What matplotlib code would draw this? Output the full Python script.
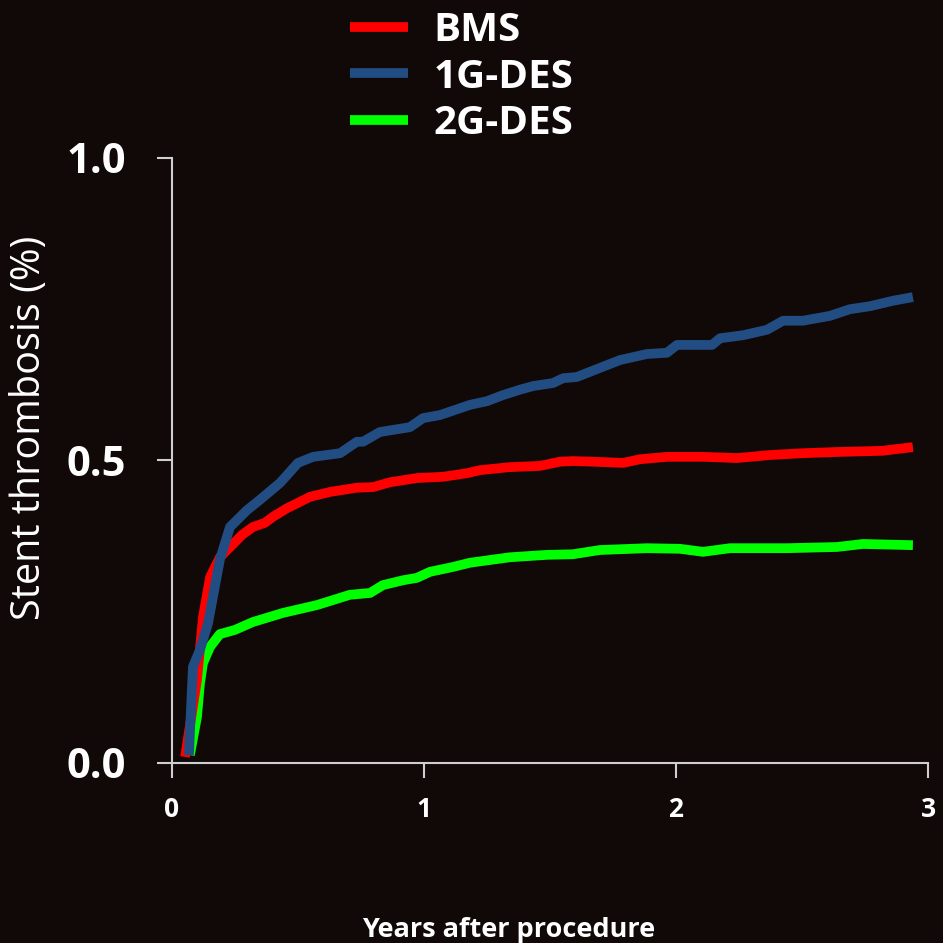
import matplotlib
matplotlib.use("Agg")
import matplotlib.pyplot as plt

# Cumulative stent thrombosis (%)
bms_years = [0.052, 0.099, 0.123, 0.151, 0.19, 0.238, 0.278, 0.321, 0.369, 0.401, 0.456, 0.5,
             0.548, 0.627, 0.734, 0.798, 0.865, 0.972, 1.075, 1.171, 1.222, 1.341, 1.46, 1.54,
             1.591, 1.671, 1.79, 1.857, 1.964, 2.107, 2.242, 2.373, 2.504, 2.639, 2.821, 2.877, 2.94]
bms_st = [0.010, 0.137, 0.241, 0.307, 0.340, 0.360, 0.377, 0.390, 0.397, 0.407, 0.421, 0.430,
          0.440, 0.448, 0.455, 0.456, 0.464, 0.471, 0.473, 0.479, 0.484, 0.489, 0.491, 0.498,
          0.499, 0.498, 0.496, 0.502, 0.506, 0.506, 0.504, 0.509, 0.512, 0.514, 0.516, 0.519, 0.522]

des1_years = [0.067, 0.083, 0.111, 0.143, 0.19, 0.23, 0.298, 0.349, 0.429, 0.5, 0.56, 0.667,
              0.734, 0.758, 0.825, 0.944, 0.996, 1.063, 1.183, 1.25, 1.313, 1.381, 1.433, 1.512,
              1.552, 1.607, 1.698, 1.778, 1.885, 1.964, 2.004, 2.143, 2.175, 2.266, 2.361, 2.425,
              2.504, 2.611, 2.69, 2.77, 2.861, 2.94]
des1_st = [0.013, 0.159, 0.187, 0.231, 0.336, 0.390, 0.418, 0.435, 0.463, 0.496, 0.506, 0.512,
           0.531, 0.531, 0.547, 0.555, 0.570, 0.575, 0.592, 0.598, 0.608, 0.617, 0.623, 0.628,
           0.636, 0.638, 0.653, 0.666, 0.676, 0.678, 0.691, 0.691, 0.702, 0.707, 0.716, 0.731,
           0.731, 0.739, 0.750, 0.755, 0.764, 0.770]

des2_years = [0.071, 0.099, 0.111, 0.123, 0.151, 0.19, 0.25, 0.321, 0.44, 0.575, 0.706, 0.786,
              0.837, 0.917, 0.972, 1.024, 1.115, 1.183, 1.341, 1.488, 1.591, 1.698, 1.885, 2.016,
              2.107, 2.214, 2.44, 2.639, 2.742, 2.94]
des2_st = [0.013, 0.076, 0.132, 0.165, 0.192, 0.213, 0.220, 0.233, 0.248, 0.261, 0.278, 0.281,
           0.294, 0.302, 0.306, 0.316, 0.324, 0.331, 0.340, 0.344, 0.345, 0.352, 0.355, 0.354,
           0.349, 0.355, 0.355, 0.357, 0.362, 0.360]

series_labels = ["BMS", "1G-DES", "2G-DES"]
x_ticks = [0, 1, 2, 3]
y_ticks = [0.0, 0.5, 1.0]

bg = "#110808"
axis_col = "#cfcfcf"

fig = plt.figure(figsize=(9.43, 9.43), dpi=100, facecolor=bg)
ax = fig.add_axes([0.1824, 0.1909, 0.8017, 0.6416], facecolor=bg)

lw = 7
l1, = ax.plot(bms_years, bms_st, color="#ff0000", lw=lw, solid_capstyle="butt", label=series_labels[0])
l2, = ax.plot(des1_years, des1_st, color="#224d82", lw=lw, solid_capstyle="butt", label=series_labels[1])
l3, = ax.plot(des2_years, des2_st, color="#00ff00", lw=lw, solid_capstyle="butt", label=series_labels[2])
# 2G sits under the other two near the origin
l3.set_zorder(1.5)
l1.set_zorder(2.5)
l2.set_zorder(3)

ax.set_xlim(0, 3)
ax.set_ylim(0, 1)
ax.set_xticks(x_ticks)
ax.set_xticklabels([str(t) for t in x_ticks])
ax.set_yticks(y_ticks)
ax.set_yticklabels([f"{t:.1f}" for t in y_ticks])

for side in ["top", "right"]:
    ax.spines[side].set_visible(False)
for side in ["left", "bottom"]:
    ax.spines[side].set_color(axis_col)
    ax.spines[side].set_linewidth(1.5)

ax.tick_params(axis="both", direction="out", length=11, width=1.5, color=axis_col)
ax.tick_params(axis="y", pad=22)
ax.tick_params(axis="x", pad=13)
for lab in ax.get_yticklabels():
    lab.set_fontfamily("Open Sans")
    lab.set_fontweight("bold")
    lab.set_fontsize(30)
    lab.set_color("white")
for lab in ax.get_xticklabels():
    lab.set_fontfamily("Open Sans")
    lab.set_fontweight("bold")
    lab.set_fontsize(19)
    lab.set_color("white")

ax.set_ylabel("Stent thrombosis (%)", fontsize=28.5, family="Open Sans", color="white")
ax.yaxis.set_label_coords(-0.162, 0.554)
ax.set_xlabel("Years after procedure", fontsize=19.5, family="Open Sans", fontweight="bold", color="white")
ax.xaxis.set_label_coords(0.445, -0.255)

leg = fig.legend(handles=[l1, l2, l3], loc="upper left", bbox_to_anchor=(0.371, 0.988),
                 frameon=False, handlelength=1.45, handletextpad=0.62, labelspacing=0.18,
                 borderpad=0.0, borderaxespad=0.0,
                 prop={"family": "Open Sans", "weight": "bold", "size": 29})
for t in leg.get_texts():
    t.set_color("white")

fig.savefig("out.png", dpi=100, facecolor=bg)
